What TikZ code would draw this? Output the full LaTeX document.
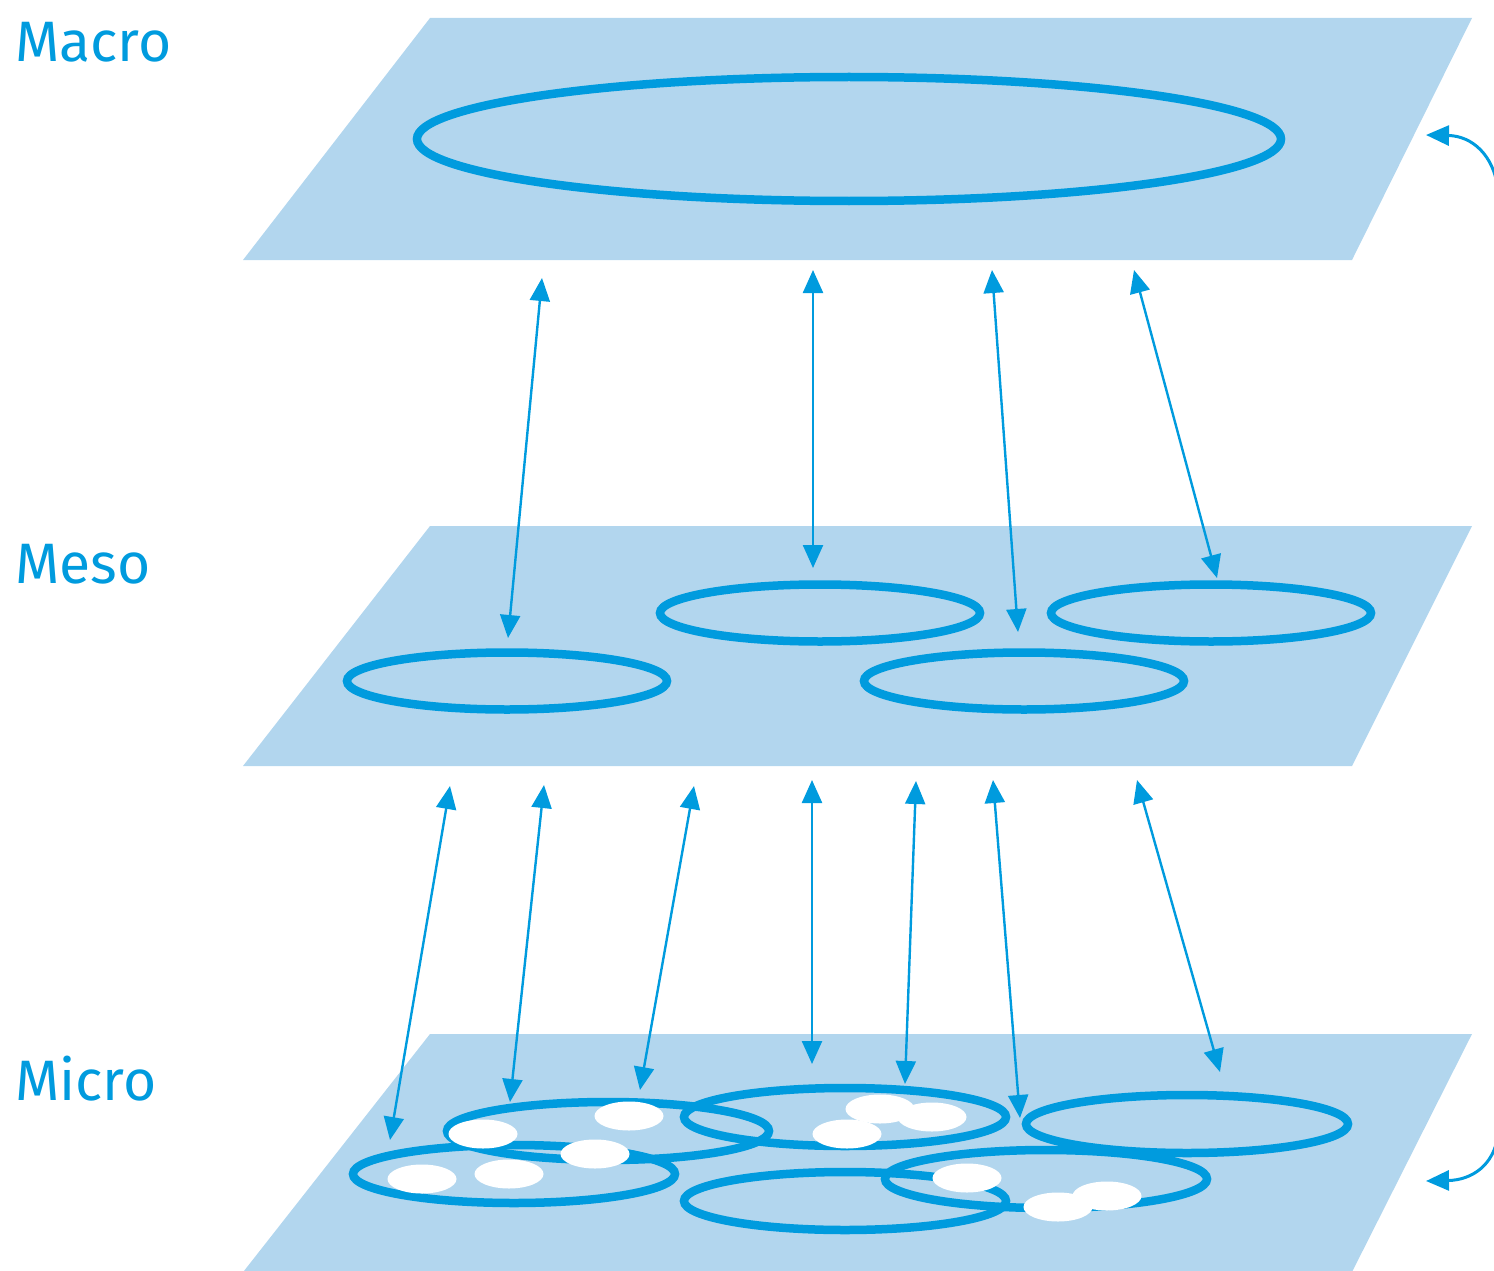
\documentclass[tikz,border=0pt]{standalone}
\usepackage{fontspec}
\setmainfont{Fira Sans}
\usetikzlibrary{arrows.meta,shapes.geometric}
\definecolor{planefill}{RGB}{178,214,238}
\definecolor{mblue}{RGB}{0,155,222}
\begin{document}
\begin{tikzpicture}[x=1pt,y=-1pt,
  plane/.style={fill=planefill,draw=none},
  ring/.style={draw=mblue,line width=8.5pt,ellipse,inner sep=0pt},
  bigring/.style={ring,minimum width=864pt,minimum height=124pt},
  mesoring/.style={ring,minimum width=320pt,minimum height=57pt},
  microring/.style={ring,minimum width=322pt,minimum height=58pt},
  spot/.style={fill=white,draw=none,ellipse,inner sep=0pt,minimum width=69pt,minimum height=29pt},
  link/.style={draw=mblue,line width=2.4pt,{Triangle[length=23pt,width=20pt]}-{Triangle[length=23pt,width=20pt]}},
  curv/.style={draw=mblue,line width=3pt,-{Triangle[length=23pt,width=20pt]}},
  lvl/.style={text=mblue,font=\fontsize{57}{57}\selectfont,anchor=base west,inner sep=0pt}]
\useasboundingbox (0,0) rectangle (1494,1271);
\clip (0,0) rectangle (1494,1271);
% planes
\fill[plane] (430,18) -- (1472,18) -- (1352,260) -- (243,260) -- cycle;
\fill[plane] (430,526) -- (1472,526) -- (1352,766) -- (243,766) -- cycle;
\fill[plane] (430,1034) -- (1472,1034) -- (1350,1276) -- (240,1276) -- cycle;
% labels
\node[lvl] (lmacro) at (15,62) {Macro};
\node[lvl] (lmeso) at (15,583) {Meso};
\node[lvl] (lmicro) at (15,1100) {Micro};
% macro
\node[bigring] (macro) at (849,139) {};
% meso
\node[mesoring] (me1) at (507,681) {};
\node[mesoring] (me2) at (820,613) {};
\node[mesoring] (me3) at (1024,681) {};
\node[mesoring] (me4) at (1211,613) {};
% micro
\node[microring] (mi1) at (514,1174) {};
\node[microring] (mi2) at (608,1131) {};
\node[microring] (mi3) at (845,1117) {};
\node[microring] (mi4) at (845,1201) {};
\node[microring] (mi5) at (1046,1179) {};
\node[microring] (mi6) at (1187,1124) {};
% white spots
\node[spot] (s1) at (422,1179) {};
\node[spot] (s2) at (509,1174) {};
\node[spot] (s3) at (483,1134) {};
\node[spot] (s4) at (595,1154) {};
\node[spot] (s5) at (629,1116) {};
\node[spot] (s6) at (847,1134) {};
\node[spot] (s7) at (880,1109) {};
\node[spot] (s8) at (932,1117) {};
\node[spot] (s9) at (967,1178) {};
\node[spot] (s10) at (1058,1207) {};
\node[spot] (s11) at (1107,1196) {};
% arrow ends macro-meso
\coordinate (a1t) at (542,278); \coordinate (a1b) at (508,638);
\coordinate (a2t) at (813,270); \coordinate (a2b) at (813,568);
\coordinate (a3t) at (992,270); \coordinate (a3b) at (1018,632);
\coordinate (a4t) at (1134,270); \coordinate (a4b) at (1217,578);
\draw[link] (a1t) -- (a1b);
\draw[link] (a2t) -- (a2b);
\draw[link] (a3t) -- (a3b);
\draw[link] (a4t) -- (a4b);
% arrow ends meso-micro
\coordinate (b1t) at (450,786); \coordinate (b1b) at (390,1140);
\coordinate (b2t) at (544,785); \coordinate (b2b) at (510,1102);
\coordinate (b3t) at (694,786); \coordinate (b3b) at (640,1090);
\coordinate (b4t) at (812,780); \coordinate (b4b) at (812,1064);
\coordinate (b5t) at (916,781); \coordinate (b5b) at (905,1084);
\coordinate (b6t) at (993,780); \coordinate (b6b) at (1020,1118);
\coordinate (b7t) at (1137,780); \coordinate (b7b) at (1220,1072);
\draw[link] (b1t) -- (b1b);
\draw[link] (b2t) -- (b2b);
\draw[link] (b3t) -- (b3b);
\draw[link] (b4t) -- (b4b);
\draw[link] (b5t) -- (b5b);
\draw[link] (b6t) -- (b6b);
\draw[link] (b7t) -- (b7b);
% curved arrows at right edge
\coordinate (ct0) at (1498,190); \coordinate (ct1) at (1426,135);
\coordinate (cb0) at (1498,1135); \coordinate (cb1) at (1426,1181);
\draw[curv] (ct0) .. controls (1494,155) and (1472,136) .. (ct1);
\draw[curv] (cb0) .. controls (1494,1165) and (1472,1180) .. (cb1);
\end{tikzpicture}
\end{document}
